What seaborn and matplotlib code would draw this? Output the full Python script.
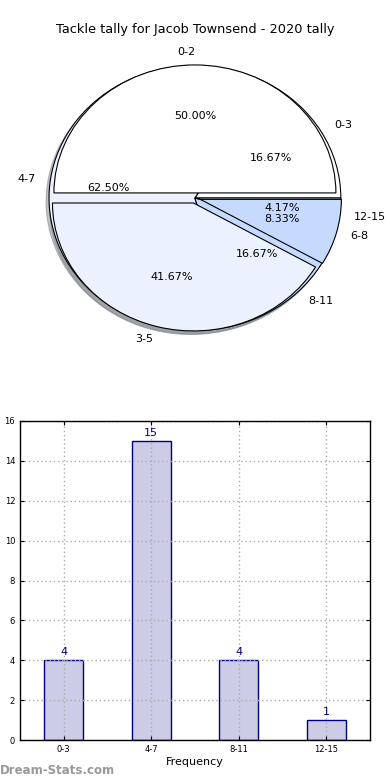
import numpy as np
import matplotlib
matplotlib.use("Agg")
import matplotlib.pyplot as plt
import seaborn as sns

# tally bins and counts (bar chart + outer pie)
bins = ["0-3", "4-7", "8-11", "12-15"]
games = [4, 15, 4, 1]

# coarser bins (inner pie)
bins_small = ["0-2", "3-5", "6-8"]
games_small = [12, 10, 2]

title = "Tackle tally for Jacob Townsend - 2020 tally"

sns.set_style("white")
plt.rcParams["font.family"] = ["DejaVu Sans"]
plt.rcParams["text.color"] = "black"
plt.rcParams["axes.labelcolor"] = "black"
plt.rcParams["xtick.color"] = "black"
plt.rcParams["ytick.color"] = "black"

fig = plt.figure(figsize=(3.9, 7.8), dpi=100)

pie_colors = ["white", "#EBF1FD", "#C6D9FF", "white"]
wedge_style = dict(edgecolor="black", linewidth=0.8)
shadow_style = dict(ox=-0.015, oy=-0.02, shade=0.45)

# --- pie part ---
ax_pie = fig.add_axes([0.0118, 0.5246, 0.976, 0.443])
ax_pie.pie(games, labels=bins, colors=pie_colors, autopct="%.2f%%",
           radius=1.035, shadow=shadow_style, wedgeprops=wedge_style,
           textprops=dict(fontsize=8, color="black"))
ax_pie.pie(games_small, labels=bins_small, colors=pie_colors[:3], autopct="%.2f%%",
           radius=1.0, explode=[0.04] * 3, shadow=shadow_style, wedgeprops=wedge_style,
           textprops=dict(fontsize=8, color="black"))
ax_pie.set_aspect("auto")
ax_pie.set_xlim(-1.35, 1.35)
ax_pie.set_ylim(-1.35, 1.35)
ax_pie.axis("off")

fig.text(0.5, 1 - 30 / 780, title, ha="center", va="center", fontsize=9.3)

# --- bar part ---
ax_bar = fig.add_axes([20 / 390, 40 / 780, 350 / 390, 319 / 780])
sns.barplot(x=bins, y=games, ax=ax_bar, width=0.45, color="#CCCCE6",
            saturation=1, edgecolor="navy", linewidth=1)
ax_bar.bar_label(ax_bar.containers[0], padding=2, color="navy", fontsize=8)
ax_bar.set_xlim(-0.5, 3.5)
ax_bar.set_ylim(0, 16)
ax_bar.set_yticks(range(0, 17, 2))
ax_bar.grid(True, linestyle=(0, (1, 2)), color="#AAAAAA", linewidth=1)
ax_bar.set_axisbelow("line")
ax_bar.tick_params(labelsize=6, direction="in", length=3, top=True, right=True,
                   bottom=True, left=True)
for s in ax_bar.spines.values():
    s.set_color("black")
    s.set_linewidth(1)
ax_bar.set_xlabel("Frequency", fontsize=8, labelpad=2)
ax_bar.set_ylabel("Games with Tally", fontsize=8)

fig.text(0.0, 1 - 771 / 780, "Dream-Stats.com", ha="left", va="center",
         fontsize=8.5, color="#999999", fontweight="bold")

fig.savefig("out.png", dpi=100)
